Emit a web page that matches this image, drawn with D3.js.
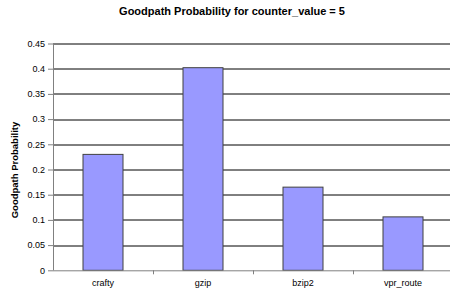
<!DOCTYPE html>
<html>
<head>
  <meta charset="utf-8">
  <title>Goodpath Probability</title>
  <style>
    body { margin: 0; background: #fff; }
    text { font-family: "Liberation Sans", Arial, sans-serif; }
  </style>
</head>
<body>
  <svg width="450" height="296"></svg>
  <script src="https://cdnjs.cloudflare.com/ajax/libs/d3/7.8.5/d3.min.js"></script>
  <script>
    const benchmarks = ["crafty", "gzip", "bzip2", "vpr_route"];
    const probability = [0.230, 0.402, 0.165, 0.106];
    const yTicks = [0, 0.05, 0.1, 0.15, 0.2, 0.25, 0.3, 0.35, 0.4, 0.45];

    const svg = d3.select("svg");
    const margin = {top: 43.5, right: -3, bottom: 25.7, left: 53};
    const w = 450 - margin.left - margin.right;
    const h = 296 - margin.top - margin.bottom;

    const x = d3.scaleBand().domain(benchmarks).range([0, w]).paddingInner(0.6).paddingOuter(0.3);
    const xb = d3.scaleBand().domain(benchmarks).range([0, w]);
    const y = d3.scaleLinear().domain([0, 0.45]).range([h, 0]);

    svg.append("text")
       .attr("x", 232).attr("y", 14.5)
       .attr("text-anchor", "middle")
       .attr("font-size", 11).attr("font-weight", "bold")
       .text("Goodpath Probability for counter_value = 5");

    svg.append("text")
       .attr("transform", "translate(18,170) rotate(-90)")
       .attr("text-anchor", "middle")
       .attr("font-size", 9.5).attr("font-weight", "bold")
       .text("Goodpath Probability");

    const g = svg.append("g").attr("transform", "translate(" + margin.left + "," + margin.top + ")");

    // grid lines
    g.selectAll("line.grid")
     .data(yTicks.slice(1))
     .enter().append("line")
     .attr("class", "grid")
     .attr("x1", 0).attr("x2", w)
     .attr("y1", d => Math.round(y(d)) + 0.5).attr("y2", d => Math.round(y(d)) + 0.5)
     .attr("stroke", "#000").attr("stroke-width", 1);

    // bars
    g.selectAll("rect")
     .data(probability)
     .enter().append("rect")
     .attr("x", (d, i) => x(benchmarks[i]))
     .attr("y", d => y(d))
     .attr("width", x.bandwidth())
     .attr("height", d => h - y(d))
     .attr("fill", "#9999ff")
     .attr("stroke", "#404040").attr("stroke-width", 1);

    // y axis
    const yAxis = g.append("g")
      .call(d3.axisLeft(y).tickValues(yTicks).tickSize(5).tickPadding(3).tickFormat(d => d3.format("")(+d.toFixed(2))));
    yAxis.select(".domain").attr("stroke", "#808080").attr("d", "M0.5,0V" + h);
    yAxis.selectAll(".tick line").attr("stroke", "#808080");
    yAxis.selectAll("text").attr("font-size", 9).attr("fill", "#000")
         .style("font-family", "Liberation Sans, Arial, sans-serif");

    // x axis
    const xAxis = g.append("g").attr("transform", "translate(0," + h + ")")
      .call(d3.axisBottom(xb).tickSize(0).tickPadding(9));
    xAxis.select(".domain").attr("stroke", "#808080").attr("d", "M0," + 0.5 + "H" + w);
    xAxis.selectAll("text").attr("font-size", 9).attr("fill", "#000")
         .style("font-family", "Liberation Sans, Arial, sans-serif");
    g.selectAll("line.xtick")
     .data(benchmarks.slice(1))
     .enter().append("line")
     .attr("class", "xtick")
     .attr("x1", d => Math.round(xb(d)) + 0.5).attr("x2", d => Math.round(xb(d)) + 0.5)
     .attr("y1", h).attr("y2", h + 4)
     .attr("stroke", "#808080");
  </script>
</body>
</html>
